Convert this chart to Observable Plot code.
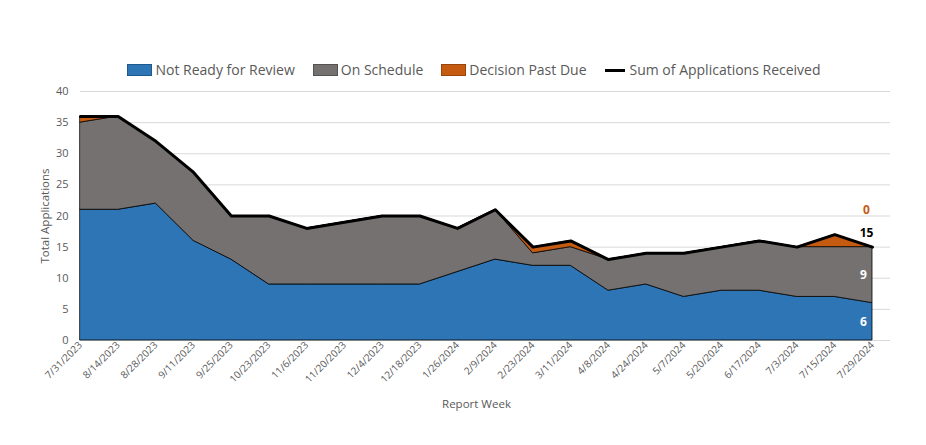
<!DOCTYPE html>
<html>
<head>
<meta charset="utf-8">
<script src="https://cdn.jsdelivr.net/npm/d3@7"></script>
<script src="https://cdn.jsdelivr.net/npm/@observablehq/plot@0.6"></script>
<style>
  html, body { margin: 0; padding: 0; background: #fff; }
  body { width: 926px; height: 445px; overflow: hidden; font-family: "Open Sans", sans-serif; }
  #legend { height: 80px; box-sizing: border-box; padding-top: 60px; padding-left: 22px; display: flex; justify-content: center; align-items: center; gap: 18px; font-size: 14px; color: #595959; line-height: 20px; }
  .item { display: flex; align-items: center; gap: 3px; }
  .sw { width: 25px; height: 12px; box-sizing: border-box; }
  .ln { width: 20px; height: 3px; background: #000; margin-right: 2px; }
  svg { display: block; }
</style>
</head>
<body>
<div id="legend"></div>
<div id="chart"></div>
<script>
const dates = ["7/31/2023","8/14/2023","8/28/2023","9/11/2023","9/25/2023","10/23/2023","11/6/2023","11/20/2023","12/4/2023","12/18/2023","1/26/2024","2/9/2024","2/23/2024","3/11/2024","4/8/2024","4/24/2024","5/7/2024","5/20/2024","6/17/2024","7/3/2024","7/15/2024","7/29/2024"];
const notReady   = [21,21,22,16,13,9,9,9,9,9,11,13,12,12,8,9,7,8,8,7,7,6];
const onSchedule = [14,15,10,11,7,11,9,10,11,11,7,8,2,3,5,5,7,7,8,8,8,9];
const pastDue    = [1,0,0,0,0,0,0,0,0,0,0,0,1,1,0,0,0,0,0,0,2,0];
const totals     = [36,36,32,27,20,20,18,19,20,20,18,21,15,16,13,14,14,15,16,15,17,15];
const seriesNames = ["Not Ready for Review","On Schedule","Decision Past Due"];
const seriesColors = ["#2E75B6","#767171","#C55A11"];
const seriesBorders = ["#1f5a8f","#555252","#9a430b"];
const yTicks = [0,5,10,15,20,25,30,35,40];

const legend = document.getElementById("legend");
seriesNames.forEach((n,i) => {
  const it = document.createElement("div"); it.className = "item";
  const sw = document.createElement("div"); sw.className = "sw";
  sw.style.background = seriesColors[i]; sw.style.border = "1px solid " + seriesBorders[i];
  const t = document.createElement("span"); t.textContent = n;
  it.append(sw, t); legend.append(it);
});
{
  const it = document.createElement("div"); it.className = "item";
  const l = document.createElement("div"); l.className = "ln";
  const t = document.createElement("span"); t.textContent = "Sum of Applications Received";
  it.append(l, t); legend.append(it);
}

const idx = dates.map((d, i) => i);
const long = [];
const vals = [notReady, onSchedule, pastDue];
idx.forEach(i => vals.forEach((v,s) => long.push({i, series: seriesNames[s], value: v[i]})));
const sums = idx.map(i => ({i, value: totals[i]}));
const last = dates.length - 1;
const innerLabels = [
  {i: last, y: notReady[last]/2, text: String(notReady[last])},
  {i: last, y: notReady[last] + onSchedule[last]/2, text: String(onSchedule[last])}
];
const lastPoint = [{i: last, y: totals[last]}];

const chart = Plot.plot({
  width: 926,
  height: 365,
  marginLeft: 80,
  marginRight: 36,
  marginTop: 11,
  marginBottom: 105,
  style: {fontFamily: "Open Sans, sans-serif", color: "#595959", background: "#fff"},
  x: {type: "linear", domain: [0, last], range: [80, 872]},
  y: {domain: [0, 40]},
  color: {domain: seriesNames, range: seriesColors},
  marks: [
    Plot.ruleY(yTicks, {stroke: "#d9d9d9", strokeWidth: 1}),
    Plot.areaY(long, {x: "i", y: "value", fill: "series", z: "series", order: seriesNames, stroke: "#000", strokeWidth: 0.8, strokeLinejoin: "round"}),
    Plot.lineY(sums, {x: "i", y: "value", stroke: "#000", strokeWidth: 3, strokeLinejoin: "round"}),
    Plot.axisY({ticks: yTicks, tickSize: 0, tickPadding: 12, fontSize: 11, fill: "#595959", label: null}),
    Plot.axisX({ticks: idx, tickFormat: i => dates[i], tickRotate: -45, tickSize: 0, tickPadding: 3, fontSize: 10, fill: "#595959", label: null}),
    Plot.text(innerLabels, {x: "i", y: "y", text: "text", fill: "#fff", dx: -9, fontSize: 12, fontWeight: "bold"}),
    Plot.text(lastPoint, {x: "i", y: "y", text: () => String(totals[last]), fill: "#000", dx: -6, dy: -14, fontSize: 12, fontWeight: "bold"}),
    Plot.text(lastPoint, {x: "i", y: "y", text: () => String(pastDue[last]), fill: "#C55A11", dx: -6, dy: -37, fontSize: 12, fontWeight: "bold"}),
    Plot.text(["Report Week"], {frameAnchor: "bottom", dy: 67, dx: -9, fontSize: 11.5, fill: "#595959"}),
    Plot.text(["Total Applications"], {frameAnchor: "left", textAnchor: "middle", rotate: -90, dx: -35, fontSize: 11.5, fill: "#595959"})
  ]
});
document.getElementById("chart").append(chart);
</script>
</body>
</html>
